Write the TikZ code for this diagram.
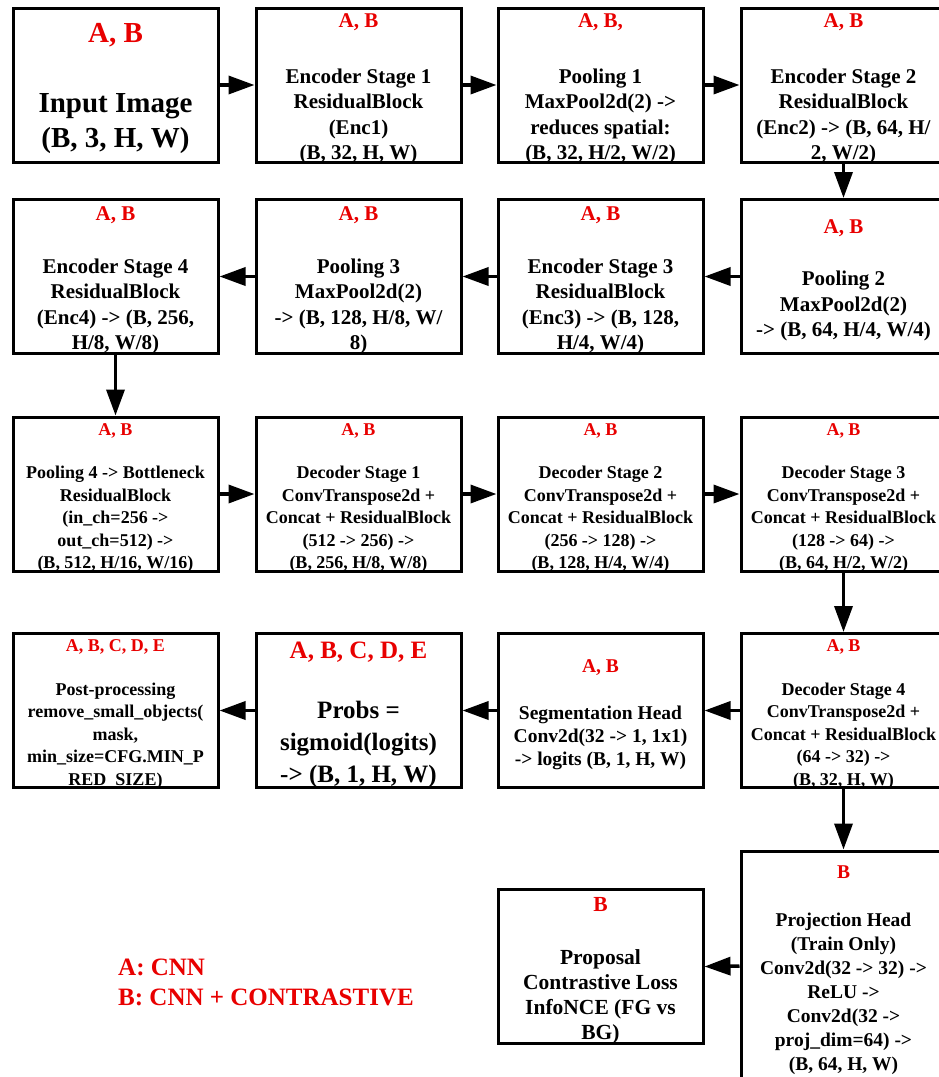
\documentclass[tikz,border=0pt]{standalone}
\usepackage{fontspec}
\setmainfont{Liberation Serif}
\usetikzlibrary{arrows.meta}
\definecolor{labred}{RGB}{232,0,0}
\newcommand{\lab}[1]{\textcolor{labred}{#1}}
\tikzset{
  box/.style={draw, line width=3pt, minimum width=205pt, minimum height=154pt, inner sep=0pt},
  txt/.style args={#1/#2}{align=center, inner sep=0pt, yshift=-4pt, font=\bfseries\fontsize{#1}{#2}\selectfont},
  conn/.style={line width=3.5pt, -{Triangle[length=26pt,width=18pt]}},
  legend/.style={inner sep=0pt, text=labred, font=\bfseries\fontsize{25}{30}\selectfont}
}
\begin{document}
\begin{tikzpicture}[x=1pt,y=-1pt]
\useasboundingbox (0,0) rectangle (939,1077);
\clip (0,0) rectangle (939,1077);
% row 1
\node[box] (in) at (115.5,85) {};
\node[txt=29/35] (inT) at (in) {\lab{A, B}\\[35pt]Input Image\\(B, 3, H, W)};
\node[box] (e1) at (358.5,85) {};
\node[txt=21/25.5] (e1T) at (e1) {\lab{A, B}\\[30pt]Encoder Stage 1\\ResidualBlock\\(Enc1)\\(B, 32, H, W)};
\node[box] (p1) at (600.5,85) {};
\node[txt=21/25.5] (p1T) at (p1) {\lab{A, B,}\\[30pt]Pooling 1\\MaxPool2d(2) ->\\reduces spatial:\\(B, 32, H/2, W/2)};
\node[box] (e2) at (843.5,85) {};
\node[txt=21/25.5] (e2T) at (e2) {\lab{A, B}\\[30pt]Encoder Stage 2\\ResidualBlock\\(Enc2) -> (B, 64, H/\\2, W/2)};
% row 2
\node[box] (e4) at (115.5,276.5) {};
\node[txt=21/25.5] (e4T) at (e4) {\lab{A, B}\\[27pt]Encoder Stage 4\\ResidualBlock\\(Enc4) -> (B, 256,\\H/8, W/8)};
\node[box] (p3) at (358.5,276.5) {};
\node[txt=21/25.5] (p3T) at (p3) {\lab{A, B}\\[27pt]Pooling 3\\MaxPool2d(2)\\-> (B, 128, H/8, W/\\8)};
\node[box] (e3) at (600.5,276.5) {};
\node[txt=21/25.5] (e3T) at (e3) {\lab{A, B}\\[27pt]Encoder Stage 3\\ResidualBlock\\(Enc3) -> (B, 128,\\H/4, W/4)};
\node[box] (p2) at (843.5,276.5) {};
\node[txt=21/25.5] (p2T) at (p2) {\lab{A, B}\\[27pt]Pooling 2\\MaxPool2d(2)\\-> (B, 64, H/4, W/4)};
% row 3
\node[box] (p4) at (115.5,494) {};
\node[txt=18/22.5] (p4T) at (p4) {\lab{A, B}\\[21pt]Pooling 4 -> Bottleneck\\ResidualBlock\\(in\_ch=256 ->\\out\_ch=512) ->\\(B, 512, H/16, W/16)};
\node[box] (d1) at (358.5,494) {};
\node[txt=18/22.5] (d1T) at (d1) {\lab{A, B}\\[21pt]Decoder Stage 1\\ConvTranspose2d +\\Concat + ResidualBlock\\(512 -> 256) ->\\(B, 256, H/8, W/8)};
\node[box] (d2) at (600.5,494) {};
\node[txt=18/22.5] (d2T) at (d2) {\lab{A, B}\\[21pt]Decoder Stage 2\\ConvTranspose2d +\\Concat + ResidualBlock\\(256 -> 128) ->\\(B, 128, H/4, W/4)};
\node[box] (d3) at (843.5,494) {};
\node[txt=18/22.5] (d3T) at (d3) {\lab{A, B}\\[21pt]Decoder Stage 3\\ConvTranspose2d +\\Concat + ResidualBlock\\(128 -> 64) ->\\(B, 64, H/2, W/2)};
% row 4
\node[box] (post) at (115.5,710.5) {};
\node[txt=18/22.5] (postT) at (post) {\lab{A, B, C, D, E}\\[21pt]Post-processing\\remove\_small\_objects(\\mask,\\min\_size=CFG.MIN\_P\\RED\_SIZE)};
\node[box] (probs) at (358.5,710.5) {};
\node[txt=25/32] (probsT) at (probs) {\lab{A, B, C, D, E}\\[28pt]Probs =\\sigmoid(logits)\\-> (B, 1, H, W)};
\node[box] (seg) at (600.5,710.5) {};
\node[txt=19.5/23] (segT) at (seg) {\lab{A, B}\\[24pt]Segmentation Head\\Conv2d(32 -> 1, 1x1)\\-> logits (B, 1, H, W)};
\node[box] (d4) at (843.5,710.5) {};
\node[txt=18/22.5] (d4T) at (d4) {\lab{A, B}\\[21pt]Decoder Stage 4\\ConvTranspose2d +\\Concat + ResidualBlock\\(64 -> 32) ->\\(B, 32, H, W)};
% row 5
\node[box] (prop) at (600.5,966.5) {};
\node[txt=21.5/25] (propT) at (prop) {\lab{B}\\[28pt]Proposal\\Contrastive Loss\\InfoNCE (FG vs\\BG)};
\node[box, minimum height=230pt] (proj) at (843.5,966) {};
\node[txt=19.5/24] (projT) at (proj) {\lab{B}\\[24pt]Projection Head\\(Train Only)\\Conv2d(32 -> 32) ->\\ReLU ->\\Conv2d(32 ->\\proj\_dim=64) ->\\(B, 64, H, W)};
% legend
\node[legend, anchor=base west] (la) at (118,975) {A: CNN};
\node[legend, anchor=base west] (lb) at (118,1005) {B: CNN + CONTRASTIVE};
% connectors
\draw[conn] (in.east) -- (e1.west);
\draw[conn] (e1.east) -- (p1.west);
\draw[conn] (p1.east) -- (e2.west);
\draw[conn] (e2.south) -- (p2.north);
\draw[conn] (p2.west) -- (e3.east);
\draw[conn] (e3.west) -- (p3.east);
\draw[conn] (p3.west) -- (e4.east);
\draw[conn] (e4.south) -- (p4.north);
\draw[conn] (p4.east) -- (d1.west);
\draw[conn] (d1.east) -- (d2.west);
\draw[conn] (d2.east) -- (d3.west);
\draw[conn] (d3.south) -- (d4.north);
\draw[conn] (d4.west) -- (seg.east);
\draw[conn] (seg.west) -- (probs.east);
\draw[conn] (probs.west) -- (post.east);
\draw[conn] (d4.south) -- (proj.north);
\draw[conn] (proj.west) -- (prop.east);
\end{tikzpicture}
\end{document}
